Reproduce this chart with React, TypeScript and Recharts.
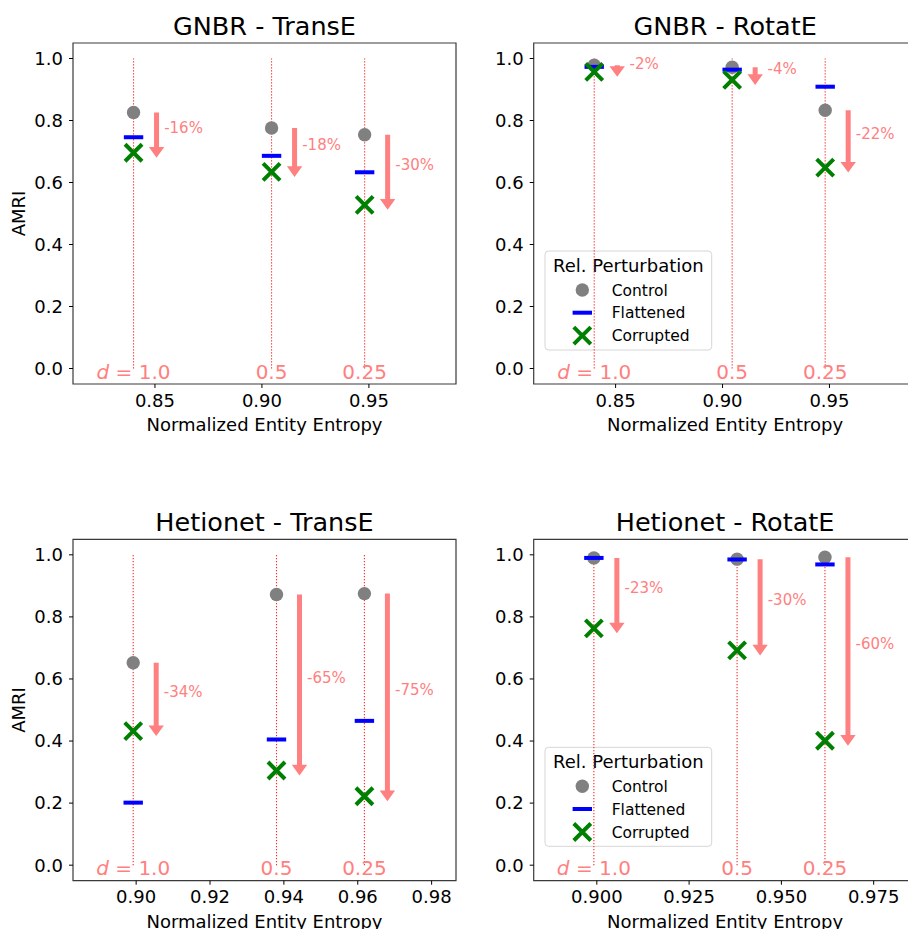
import React from 'react';
import { ScatterChart, Scatter, XAxis, YAxis, ReferenceLine, ReferenceArea } from 'recharts';

const FONT = '"DejaVu Sans", Verdana, sans-serif';

// ---------- data ----------
const gnbrEntropy = [0.84, 0.9045, 0.948];
const hetionetEntropy = [0.8992, 0.938, 0.9618];
const degreeLabels = ['1.0', '0.5', '0.25'];

const gnbrTransEControl = [0.826, 0.776, 0.754];
const gnbrTransEFlattened = [0.746, 0.686, 0.633];
const gnbrTransECorrupted = [0.696, 0.634, 0.528];
const gnbrTransEDrops = ['-16%', '-18%', '-30%'];

const gnbrRotatEControl = [0.978, 0.972, 0.833];
const gnbrRotatEFlattened = [0.973, 0.964, 0.909];
const gnbrRotatECorrupted = [0.957, 0.931, 0.648];
const gnbrRotatEDrops = ['-2%', '-4%', '-22%'];

const hetTransEControl = [0.652, 0.872, 0.875];
const hetTransEFlattened = [0.2015, 0.405, 0.465];
const hetTransECorrupted = [0.432, 0.305, 0.222];
const hetTransEDrops = ['-34%', '-65%', '-75%'];

const hetRotatEControl = [0.99, 0.986, 0.992];
const hetRotatEFlattened = [0.99, 0.985, 0.969];
const hetRotatECorrupted = [0.763, 0.692, 0.401];
const hetRotatEDrops = ['-23%', '-30%', '-60%'];

const amriTicks = [0, 0.2, 0.4, 0.6, 0.8, 1.0];
const gnbrTicks = [0.85, 0.9, 0.95];
const hetTransETicks = [0.9, 0.92, 0.94, 0.96, 0.98];
const hetRotatETicks = [0.9, 0.925, 0.95, 0.975];

const gnbrDomain: [number, number] = [0.8117, 0.9907];
const hetDomain: [number, number] = [0.8829, 0.9866];
const amriDomain: [number, number] = [-0.05, 1.05];

const legendItems = ['Control', 'Flattened', 'Corrupted'];

// ---------- styling ----------
const XAXIS_H = 40;
const YAXIS_W = 60;
const SALMON = '#ff8080';

const ControlDot = (props: any) => <circle cx={props.cx} cy={props.cy} r={6.7} fill="#808080" />;
const FlatBar = (props: any) => (
  <rect x={props.cx - 9.7} y={props.cy - 2} width={19.4} height={4} fill="#0000ff" />
);
const CrossMark = (props: any) => {
  const { cx, cy } = props;
  const s = 8.5;
  return (
    <path
      d={`M${cx - s},${cy - s}L${cx + s},${cy + s}M${cx - s},${cy + s}L${cx + s},${cy - s}`}
      stroke="#008000"
      strokeWidth={4}
      fill="none"
    />
  );
};

function DropLine({ sp, label, first }: { sp: any; label: string; first: boolean }) {
  const x = sp.x1;
  const yBottom = sp.y1;
  const yTop = sp.y2;
  return (
    <g>
      <line
        x1={x}
        y1={yBottom}
        x2={x}
        y2={yTop}
        stroke="#ff0000"
        strokeOpacity={0.85}
        strokeWidth={1.1}
        strokeDasharray="1.3 1.7"
      />
      <text x={x} y={yBottom + 10} textAnchor="middle" fontSize={20} fontFamily={FONT} fill={SALMON}>
        {first ? (
          <>
            <tspan fontStyle="italic">d</tspan>
            <tspan>{' = '}</tspan>
            <tspan>{label}</tspan>
          </>
        ) : (
          label
        )}
      </text>
    </g>
  );
}

function DropArrow({ sp, label }: { sp: any; label: string }) {
  const x = sp.x1 + 23;
  const y0 = sp.y1;
  const yc = sp.y2;
  const tip = yc + 5;
  const headLen = 10.7;
  const headHalf = 7.7;
  const shaftHalf = 2.5;
  const base = tip - headLen;
  const parts: string[] = [];
  if (base > y0) {
    parts.push(`M${x - shaftHalf},${y0}L${x + shaftHalf},${y0}L${x + shaftHalf},${base}L${x - shaftHalf},${base}Z`);
  }
  parts.push(`M${x - headHalf},${base}L${x + headHalf},${base}L${x},${tip}Z`);
  return (
    <g>
      <path d={parts.join('')} fill={SALMON} stroke="none" />
      <text x={sp.x1 + 50} y={(y0 + yc) / 2} textAnchor="middle" fontSize={15} fontFamily={FONT} fill={SALMON}>
        {label}
      </text>
    </g>
  );
}

type Margin = { top: number; right: number; bottom: number; left: number };

type PanelProps = {
  title: string;
  left: number;
  top: number;
  width: number;
  height: number;
  margin: Margin;
  entropy: number[];
  control: number[];
  flattened: number[];
  corrupted: number[];
  drops: string[];
  xTicks: number[];
  xDecimals: number;
  xDomain: [number, number];
  showYLabel: boolean;
  showLegend: boolean;
};

function Legend({ x, y }: { x: number; y: number }) {
  const w = 166.7;
  const h = 99;
  const rows = [39, 61.7, 84.7];
  const mx = x + 37.3;
  return (
    <g>
      <rect x={x} y={y} width={w} height={h} rx={3.5} fill="#ffffff" fillOpacity={0.8} stroke="#d6d6d6" strokeWidth={1} />
      <text x={x + w / 2} y={y + 20.5} textAnchor="middle" fontSize={18} fontFamily={FONT} fill="#000">
        Rel. Perturbation
      </text>
      <ControlDot cx={mx} cy={y + rows[0]} />
      <FlatBar cx={mx} cy={y + rows[1]} />
      <CrossMark cx={mx} cy={y + rows[2]} />
      {legendItems.map((t, i) => (
        <text key={t} x={x + 66.7} y={y + rows[i] + 5.6} fontSize={15.5} fontFamily={FONT} fill="#000">
          {t}
        </text>
      ))}
    </g>
  );
}

function Panel(p: PanelProps) {
  const { left, top, width, height, margin } = p;
  const plotLeft = margin.left + YAXIS_W;
  const plotRight = width - margin.right;
  const plotTop = margin.top;
  const plotBottom = height - margin.bottom - XAXIS_H;
  const midX = (plotLeft + plotRight) / 2;
  const midY = (plotTop + plotBottom) / 2;

  const controlData = p.entropy.map((x, i) => ({ x, y: p.control[i] }));
  const flatData = p.entropy.map((x, i) => ({ x, y: p.flattened[i] }));
  const corrData = p.entropy.map((x, i) => ({ x, y: p.corrupted[i] }));

  const tickStyle = { fill: '#000', fontSize: 18, fontFamily: FONT };

  return (
    <div style={{ position: 'absolute', left, top, width, height }}>
      <ScatterChart width={width} height={height} margin={margin}>
        <XAxis
          type="number"
          dataKey="x"
          domain={p.xDomain}
          allowDataOverflow
          ticks={p.xTicks}
          interval={0}
          tickFormatter={(v: number) => v.toFixed(p.xDecimals)}
          height={XAXIS_H}
          axisLine={false}
          tickLine={{ stroke: '#000', strokeWidth: 1 }}
          tickSize={4}
          tickMargin={6}
          tick={tickStyle}
        />
        <YAxis
          type="number"
          dataKey="y"
          domain={amriDomain}
          allowDataOverflow
          ticks={amriTicks}
          interval={0}
          tickFormatter={(v: number) => v.toFixed(1)}
          width={YAXIS_W}
          axisLine={false}
          tickLine={{ stroke: '#000', strokeWidth: 1 }}
          tickSize={4}
          tickMargin={6}
          tick={tickStyle}
        />
        <ReferenceArea
          x1={p.xDomain[0]}
          x2={p.xDomain[1]}
          y1={amriDomain[0]}
          y2={amriDomain[1]}
          fill="none"
          fillOpacity={0}
          stroke="#3a3a3a"
          strokeWidth={1.2}
          ifOverflow="visible"
        />
        {p.entropy.map((x, i) => (
          <ReferenceLine
            key={`v${i}`}
            segment={[
              { x, y: 0 },
              { x, y: 1 },
            ]}
            shape={(sp: any) => <DropLine sp={sp} label={degreeLabels[i]} first={i === 0} />}
          />
        ))}
        {p.entropy.map((x, i) => (
          <ReferenceLine
            key={`a${i}`}
            segment={[
              { x, y: p.control[i] },
              { x, y: p.corrupted[i] },
            ]}
            shape={(sp: any) => <DropArrow sp={sp} label={p.drops[i]} />}
          />
        ))}
        <Scatter name="Control" data={controlData} shape={ControlDot} isAnimationActive={false} />
        <Scatter name="Flattened" data={flatData} shape={FlatBar} isAnimationActive={false} />
        <Scatter name="Corrupted" data={corrData} shape={CrossMark} isAnimationActive={false} />
        {p.showLegend && <Legend x={plotLeft + 11.3} y={plotTop + 208} />}
        <text x={midX} y={plotTop - 8} textAnchor="middle" fontSize={25.5} fontFamily={FONT} fill="#000">
          {p.title}
        </text>
        <text x={midX} y={plotBottom + 47} textAnchor="middle" fontSize={18} fontFamily={FONT} fill="#000">
          Normalized Entity Entropy
        </text>
        {p.showYLabel && (
          <text
            x={25}
            y={midY}
            textAnchor="middle"
            fontSize={18}
            fontFamily={FONT}
            fill="#000"
            transform={`rotate(-90 25 ${midY})`}
          >
            AMRI
          </text>
        )}
      </ScatterChart>
    </div>
  );
}

export default function App() {
  return (
    <div
      style={{
        position: 'fixed',
        left: 0,
        top: 0,
        width: 908,
        height: 929,
        overflow: 'hidden',
        background: '#fff',
        fontFamily: FONT,
      }}
    >
      <Panel
        title="GNBR - TransE"
        left={0}
        top={0}
        width={470}
        height={445}
        margin={{ top: 43, right: 14, bottom: 21, left: 13 }}
        entropy={gnbrEntropy}
        control={gnbrTransEControl}
        flattened={gnbrTransEFlattened}
        corrupted={gnbrTransECorrupted}
        drops={gnbrTransEDrops}
        xTicks={gnbrTicks}
        xDecimals={2}
        xDomain={gnbrDomain}
        showYLabel
        showLegend={false}
      />
      <Panel
        title="GNBR - RotatE"
        left={454}
        top={0}
        width={470}
        height={445}
        margin={{ top: 43, right: 7.5, bottom: 21, left: 19.7 }}
        entropy={gnbrEntropy}
        control={gnbrRotatEControl}
        flattened={gnbrRotatEFlattened}
        corrupted={gnbrRotatECorrupted}
        drops={gnbrRotatEDrops}
        xTicks={gnbrTicks}
        xDecimals={2}
        xDomain={gnbrDomain}
        showYLabel={false}
        showLegend
      />
      <Panel
        title="Hetionet - TransE"
        left={0}
        top={480}
        width={470}
        height={470}
        margin={{ top: 59.3, right: 14, bottom: 29.3, left: 13 }}
        entropy={hetionetEntropy}
        control={hetTransEControl}
        flattened={hetTransEFlattened}
        corrupted={hetTransECorrupted}
        drops={hetTransEDrops}
        xTicks={hetTransETicks}
        xDecimals={2}
        xDomain={hetDomain}
        showYLabel
        showLegend={false}
      />
      <Panel
        title="Hetionet - RotatE"
        left={454}
        top={480}
        width={470}
        height={470}
        margin={{ top: 59.3, right: 7.5, bottom: 29.3, left: 19.7 }}
        entropy={hetionetEntropy}
        control={hetRotatEControl}
        flattened={hetRotatEFlattened}
        corrupted={hetRotatECorrupted}
        drops={hetRotatEDrops}
        xTicks={hetRotatETicks}
        xDecimals={3}
        xDomain={hetDomain}
        showYLabel={false}
        showLegend
      />
    </div>
  );
}
